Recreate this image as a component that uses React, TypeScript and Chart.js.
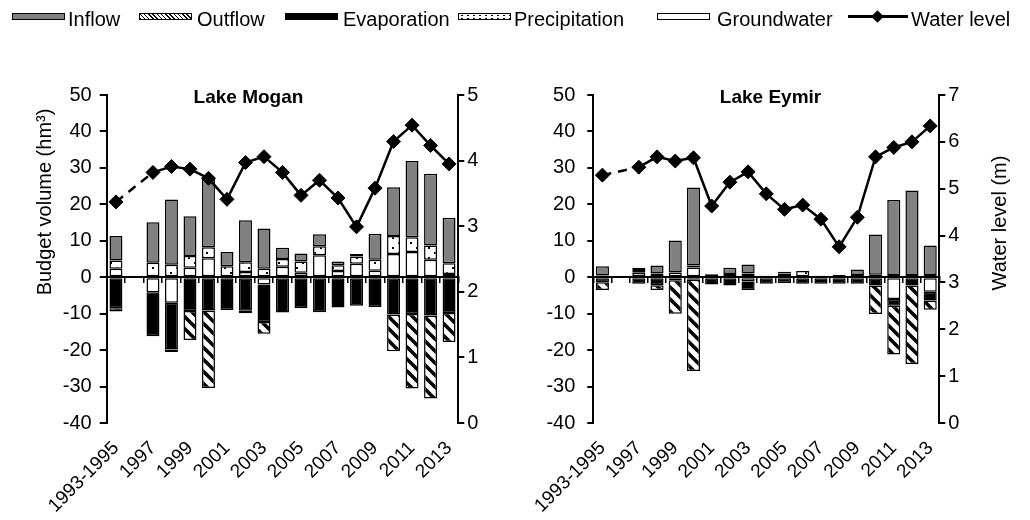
import React, { useEffect, useRef } from 'react';
import { Chart, registerables } from 'chart.js';

Chart.register(...registerables);

const FONT = 'Arial, "Liberation Sans", sans-serif';

// ---------- data ----------
const categories = ['1993-1995', '1996', '1997', '1998', '1999', '2000', '2001', '2002', '2003', '2004', '2005', '2006', '2007', '2008', '2009', '2010', '2011', '2012', '2013'];

const budgetRange = [-40, 50, 10];
const moganLevelRange = [0, 5, 1];
const eymirLevelRange = [0, 7, 1];

// Lake Mogan (hm3)
const moganInflow = [6.7, null, 11.1, 17.9, 10.9, 19.1, 3.9, 11.5, 11.1, 3.1, 2.2, 3.3, 1.0, 0.7, 7.1, 13.4, 20.9, 19.7, 12.5];
const moganOutflow = [-0.9, null, null, -0.7, -7.9, -21.3, null, -0.7, -3.2, null, null, null, null, null, null, -10.1, -20.4, -22.8, -8.0];
const moganEvaporation = [-8.5, null, -12.1, -12.8, -9.3, -9.1, -9.0, -9.2, -10.3, -9.7, -8.5, -9.6, -8.3, -7.8, -8.2, -10.2, -10.1, -10.5, -9.8];
const moganPrecipitation = [2.3, null, 4.0, 3.4, 3.2, 3.0, 3.0, 2.7, 2.3, 2.1, 3.1, 2.5, 1.6, 2.0, 3.0, 4.9, 4.1, 3.9, 2.9];
const moganGroundwater = [2.3, null, -4.1, -7.0, 2.6, 5.2, null, 1.4, -2.0, 2.9, 1.2, 6.0, 1.7, 3.7, 1.8, 6.4, 6.9, 4.8, 0.9];
const moganLevel = [3.37, null, 3.82, 3.91, 3.87, 3.73, 3.41, 3.97, 4.06, 3.82, 3.47, 3.70, 3.43, 2.99, 3.58, 4.29, 4.54, 4.23, 3.95];

// Lake Eymir (hm3)
const eymirInflow = [2.5, null, 0.6, 2.2, 8.8, 21.4, null, 1.7, 2.5, null, 0.5, null, null, null, 1.5, 11.0, 20.6, 23.2, 8.1];
const eymirOutflow = [-2.1, null, null, -1.3, -9.2, -25.0, null, null, null, null, null, null, null, null, null, -7.8, -13.4, -21.5, -2.5];
const eymirEvaporation = [-1.4, null, -1.8, -2.2, -0.8, -0.7, -2.0, -2.3, -2.3, -1.8, -1.6, -1.8, -1.8, -1.8, -1.8, -2.3, -1.8, -2.3, -2.4];
const eymirPrecipitation = [0.5, null, 0.8, 1.0, 1.3, 0.5, 0.8, 0.9, 1.0, 0.4, 1.0, 1.7, 0.4, 0.6, 0.6, 0.7, 0.6, 0.6, 0.6];
const eymirGroundwater = [null, null, 1.2, null, null, 2.7, null, null, -1.2, null, null, null, null, null, null, null, -6.0, null, -4.0];
const eymirLevel = [5.29, null, 5.46, 5.68, 5.59, 5.66, 4.63, 5.14, 5.36, 4.89, 4.56, 4.65, 4.35, 3.76, 4.39, 5.68, 5.88, 6.00, 6.34];

const legendLabels = ['Inflow', 'Outflow', 'Evaporation', 'Precipitation', 'Groundwater', 'Water level'];

// ---------- patterns ----------
function makeHatch(): CanvasPattern | string {
  const c = document.createElement('canvas');
  c.width = 12;
  c.height = 12;
  const g = c.getContext('2d');
  if (!g) return '#fff';
  g.fillStyle = '#fff';
  g.fillRect(0, 0, 12, 12);
  g.strokeStyle = '#000';
  g.lineWidth = 3.6;
  for (const k of [-12, 0, 12]) {
    g.beginPath();
    g.moveTo(k - 3, -3);
    g.lineTo(k + 15, 15);
    g.stroke();
  }
  return g.createPattern(c, 'repeat') || '#fff';
}

function makeDots(): CanvasPattern | string {
  const c = document.createElement('canvas');
  c.width = 12;
  c.height = 10;
  const g = c.getContext('2d');
  if (!g) return '#fff';
  g.fillStyle = '#fff';
  g.fillRect(0, 0, 12, 10);
  g.fillStyle = '#000';
  g.fillRect(2, 2, 2, 2);
  g.fillRect(8, 7, 2, 2);
  return g.createPattern(c, 'repeat') || '#fff';
}

const textPlugin = {
  id: 'panelText',
  afterDraw(chart: any, _args: any, opts: any) {
    const ctx = chart.ctx;
    ctx.save();
    ctx.fillStyle = '#000';
    ctx.textAlign = 'center';
    ctx.textBaseline = 'middle';
    ctx.font = `bold 19px ${FONT}`;
    ctx.fillText(opts.title, opts.titleX, opts.titleY);
    ctx.translate(opts.axisTitleX, opts.axisTitleY);
    ctx.rotate(-Math.PI / 2);
    ctx.font = `20px ${FONT}`;
    ctx.fillText(opts.axisTitle, 0, 0);
    ctx.restore();
  },
};

type Series = (number | null)[];
type PanelSpec = {
  title: string;
  titleX: number;
  titleY: number;
  axisTitle: string;
  axisTitleX: number;
  axisTitleY: number;
  inflow: Series;
  outflow: Series;
  evaporation: Series;
  precipitation: Series;
  groundwater: Series;
  level: Series;
  levelRange: number[];
  yWidth: number;
  y1Width: number;
  yTickLen: number;
  yTickPad: number;
  barPct: number;
};

function Panel({ spec, left }: { spec: PanelSpec; left: number }) {
  const ref = useRef<HTMLCanvasElement>(null);
  useEffect(() => {
    if (!ref.current) return;
    const hatch = makeHatch();
    const dots = makeDots();
    const barBase: any = {
      type: 'bar',
      xAxisID: 'x',
      yAxisID: 'y',
      borderColor: '#000',
      borderWidth: 1.5,
      borderSkipped: false,
      barPercentage: spec.barPct,
      categoryPercentage: 1,
    };
    const tickFont = { family: FONT, size: 20 };
    const chart = new Chart(ref.current, {
      type: 'bar',
      data: {
        labels: categories,
        datasets: [
          { ...barBase, label: 'Groundwater', data: spec.groundwater, backgroundColor: '#fff' },
          { ...barBase, label: 'Precipitation', data: spec.precipitation, backgroundColor: dots },
          { ...barBase, label: 'Evaporation', data: spec.evaporation, backgroundColor: '#000' },
          { ...barBase, label: 'Outflow', data: spec.outflow, backgroundColor: hatch },
          { ...barBase, label: 'Inflow', data: spec.inflow, backgroundColor: '#808080' },
          {
            type: 'line',
            label: 'Water level',
            data: spec.level,
            xAxisID: 'x',
            yAxisID: 'y1',
            order: -1,
            borderColor: '#000',
            borderWidth: 2.5,
            pointStyle: 'rectRot',
            pointRadius: 7,
            pointHoverRadius: 7,
            pointBackgroundColor: '#000',
            pointBorderColor: '#000',
            pointBorderWidth: 1,
            spanGaps: true,
            tension: 0,
            segment: {
              borderDash: (c: any) => (c.p0.skip || c.p1.skip ? [9, 7] : undefined),
            },
          } as any,
        ],
      },
      options: {
        responsive: false,
        animation: false,
        devicePixelRatio: 1,
        layout: { padding: { top: 95, left: 0, right: 0, bottom: 0 } },
        plugins: {
          legend: { display: false },
          tooltip: { enabled: false },
          panelText: {
            title: spec.title,
            titleX: spec.titleX,
            titleY: spec.titleY,
            axisTitle: spec.axisTitle,
            axisTitleX: spec.axisTitleX,
            axisTitleY: spec.axisTitleY,
          },
        } as any,
        scales: {
          x: {
            type: 'category',
            position: { y: 0 } as any,
            offset: true,
            stacked: true,
            grid: { display: true, offset: true, drawOnChartArea: false, drawTicks: true, tickLength: 5, color: '#000', lineWidth: 1.5 },
            border: { display: true, color: '#000', width: 2 },
            ticks: { display: false },
          },
          x2: {
            type: 'category',
            position: 'bottom',
            offset: true,
            grid: { display: false, drawTicks: false, offset: true },
            border: { display: false },
            ticks: {
              autoSkip: false,
              minRotation: 45,
              maxRotation: 45,
              padding: 14,
              color: '#000',
              font: { family: FONT, size: 19 },
              callback: (_v: any, i: number) => (i % 2 === 0 ? categories[i] : ''),
            },
            afterFit: (s: any) => {
              s.height = 97;
            },
          },
          y: {
            position: 'left',
            stacked: true,
            min: budgetRange[0],
            max: budgetRange[1],
            ticks: { stepSize: budgetRange[2], color: '#000', font: tickFont, padding: spec.yTickPad },
            grid: { drawOnChartArea: false, drawTicks: true, tickLength: spec.yTickLen, color: '#000', lineWidth: 2 },
            border: { display: true, color: '#000', width: 2 },
            afterFit: (s: any) => {
              s.width = spec.yWidth;
            },
          },
          y1: {
            position: 'right',
            min: spec.levelRange[0],
            max: spec.levelRange[1],
            ticks: { stepSize: spec.levelRange[2], color: '#000', font: tickFont, padding: 3 },
            grid: { drawOnChartArea: false, drawTicks: true, tickLength: 6, color: '#000', lineWidth: 2 },
            border: { display: true, color: '#000', width: 2 },
            afterFit: (s: any) => {
              s.width = spec.y1Width;
            },
          },
        },
      },
      plugins: [textPlugin as any],
    });
    return () => chart.destroy();
  }, []);
  return (
    <canvas
      ref={ref}
      width={515}
      height={520}
      style={{ position: 'absolute', left, top: 0, width: 515, height: 520, display: 'block' }}
    />
  );
}

const moganSpec: PanelSpec = {
  title: 'Lake Mogan',
  titleX: 248.5,
  titleY: 98,
  axisTitle: 'Budget volume (hm³)',
  axisTitleX: 45,
  axisTitleY: 202,
  inflow: moganInflow,
  outflow: moganOutflow,
  evaporation: moganEvaporation,
  precipitation: moganPrecipitation,
  groundwater: moganGroundwater,
  level: moganLevel,
  levelRange: moganLevelRange,
  yWidth: 106.7,
  y1Width: 56.7,
  yTickLen: 7,
  yTickPad: 8,
  barPct: 0.7,
};

const eymirSpec: PanelSpec = {
  title: 'Lake Eymir',
  titleX: 255.5,
  titleY: 98,
  axisTitle: 'Water level (m)',
  axisTitleX: 485,
  axisTitleY: 223,
  inflow: eymirInflow,
  outflow: eymirOutflow,
  evaporation: eymirEvaporation,
  precipitation: eymirPrecipitation,
  groundwater: eymirGroundwater,
  level: eymirLevel,
  levelRange: eymirLevelRange,
  yWidth: 78.3,
  y1Width: 90.7,
  yTickLen: 6,
  yTickPad: 12,
  barPct: 0.72,
};

function Swatch({ kind, left }: { kind: number; left: number }) {
  const base: React.CSSProperties = {
    position: 'absolute',
    left,
    top: 13,
    width: 53,
    height: 7,
    boxSizing: 'border-box',
    border: '1.5px solid #000',
  };
  if (kind === 0) return <div style={{ ...base, background: '#808080' }} />;
  if (kind === 1)
    return (
      <div
        style={{
          ...base,
          background: 'repeating-linear-gradient(45deg, #000 0px, #000 1px, #fff 1px, #fff 3px)',
        }}
      />
    );
  if (kind === 2) return <div style={{ ...base, background: '#000' }} />;
  if (kind === 3)
    return (
      <div
        style={{
          ...base,
          backgroundColor: '#fff',
          backgroundImage: 'radial-gradient(circle, #000 0.8px, transparent 1.1px)',
          backgroundSize: '6px 3px',
        }}
      />
    );
  if (kind === 4) return <div style={{ ...base, background: '#fff' }} />;
  return (
    <div style={{ position: 'absolute', left, top: 8, width: 60, height: 17 }}>
      <div style={{ position: 'absolute', left: 0, top: 7, width: 60, height: 2.5, background: '#000' }} />
      <div
        style={{
          position: 'absolute',
          left: 25,
          top: 4,
          width: 9,
          height: 9,
          background: '#000',
          transform: 'rotate(45deg)',
        }}
      />
    </div>
  );
}

function Legend() {
  const swatchLefts = [12, 139, 285, 458, 657, 848];
  const textLefts = [68, 197, 343, 514, 717, 911];
  return (
    <div style={{ position: 'absolute', left: 0, top: 0, width: 1030, height: 40 }}>
      {legendLabels.map((lab, i) => (
        <React.Fragment key={lab}>
          <Swatch kind={i} left={swatchLefts[i]} />
          <div
            style={{
              position: 'absolute',
              left: textLefts[i],
              top: 9,
              fontFamily: FONT,
              fontSize: 20,
              lineHeight: '20px',
              color: '#000',
              whiteSpace: 'nowrap',
            }}
          >
            {lab}
          </div>
        </React.Fragment>
      ))}
    </div>
  );
}

export default function App() {
  return (
    <div
      style={{
        position: 'absolute',
        left: 0,
        top: 0,
        width: 1030,
        height: 520,
        background: '#fff',
        overflow: 'hidden',
      }}
    >
      <Panel spec={moganSpec} left={0} />
      <Panel spec={eymirSpec} left={515} />
      <Legend />
    </div>
  );
}
